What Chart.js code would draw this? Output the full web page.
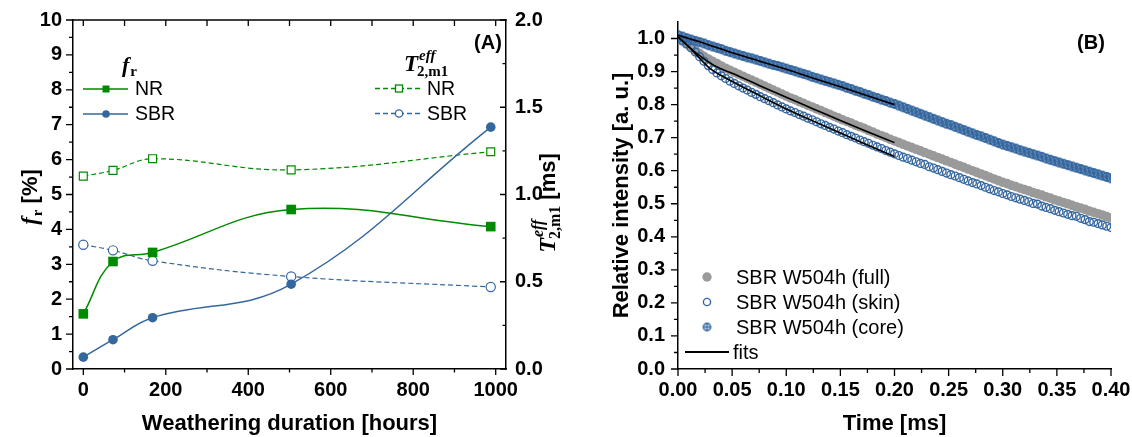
<!DOCTYPE html>
<html><head><meta charset="utf-8">
<script src="https://cdn.jsdelivr.net/npm/chart.js@4.4.1/dist/chart.umd.min.js"></script>
<style>
html,body{margin:0;padding:0;background:#fff;}
#wrap{position:relative;width:1132px;height:437px;overflow:hidden;background:#fff;}
#ca{position:absolute;left:0;top:0;}
#cb{position:absolute;left:560px;top:0;}
</style></head><body>
<div id="wrap"><canvas id="ca" width="600" height="437"></canvas><canvas id="cb" width="572" height="437"></canvas></div>
<script>
// ---------- Panel A data ----------
const hours = [0, 72, 168, 504, 988];
const frNR = [1.58, 3.08, 3.34, 4.57, 4.08];
const frSBR = [0.34, 0.84, 1.47, 2.43, 6.93];
const t2NR = [1.105, 1.138, 1.205, 1.141, 1.245];
const t2SBR = [0.712, 0.68, 0.62, 0.53, 0.47];
const xMajorA = [0, 200, 400, 600, 800, 1000];
const xMinorA = [100, 300, 500, 700, 900];
const yMajorA = [0,1,2,3,4,5,6,7,8,9,10];
const yMinorA = [0.5,1.5,2.5,3.5,4.5,5.5,6.5,7.5,8.5,9.5];
const y2MajorA = [0, 0.5, 1.0, 1.5, 2.0];
const y2MinorA = [0.25, 0.75, 1.25, 1.75];

// ---------- Panel B data ----------
const timeMs = [0,0.004,0.008,0.012,0.016,0.02,0.024,0.028,0.032,0.036,
0.04,0.044,0.048,0.052,0.056,0.06,0.064,0.068,0.072,0.076,
0.08,0.084,0.088,0.092,0.096,0.1,0.104,0.108,0.112,0.116,
0.12,0.124,0.128,0.132,0.136,0.14,0.144,0.148,0.152,0.156,
0.16,0.164,0.168,0.172,0.176,0.18,0.184,0.188,0.192,0.196,
0.2,0.204,0.208,0.212,0.216,0.22,0.224,0.228,0.232,0.236,
0.24,0.244,0.248,0.252,0.256,0.26,0.264,0.268,0.272,0.276,
0.28,0.284,0.288,0.292,0.296,0.3,0.304,0.308,0.312,0.316,
0.32,0.324,0.328,0.332,0.336,0.34,0.344,0.348,0.352,0.356,
0.36,0.364,0.368,0.372,0.376,0.38,0.384,0.388,0.392,0.396,
0.4];
const fullVals = [1.000,0.992,0.983,0.973,0.964,0.955,0.946,0.938,0.931,0.924,
0.917,0.910,0.904,0.898,0.892,0.886,0.880,0.874,0.868,0.862,
0.856,0.850,0.844,0.838,0.832,0.826,0.820,0.815,0.809,0.804,
0.798,0.793,0.787,0.782,0.776,0.771,0.765,0.760,0.754,0.749,
0.744,0.738,0.733,0.728,0.722,0.717,0.711,0.706,0.701,0.695,
0.690,0.685,0.680,0.675,0.670,0.665,0.660,0.655,0.650,0.645,
0.640,0.635,0.630,0.625,0.620,0.615,0.610,0.605,0.600,0.595,
0.590,0.585,0.580,0.575,0.570,0.565,0.561,0.556,0.552,0.547,
0.543,0.539,0.534,0.530,0.526,0.521,0.517,0.512,0.508,0.504,
0.500,0.495,0.491,0.487,0.483,0.478,0.474,0.470,0.466,0.461,
0.457];
const skinVals = [1.000,0.994,0.984,0.972,0.959,0.945,0.931,0.918,0.906,0.896,
0.887,0.879,0.871,0.864,0.857,0.850,0.844,0.837,0.831,0.824,
0.818,0.812,0.806,0.799,0.793,0.787,0.781,0.776,0.770,0.765,
0.759,0.754,0.748,0.742,0.737,0.731,0.726,0.720,0.715,0.709,
0.704,0.699,0.693,0.688,0.683,0.677,0.672,0.667,0.661,0.656,
0.651,0.646,0.641,0.637,0.632,0.627,0.622,0.619,0.612,0.608,
0.603,0.598,0.593,0.588,0.584,0.579,0.574,0.569,0.564,0.560,
0.555,0.550,0.545,0.540,0.536,0.531,0.527,0.522,0.518,0.514,
0.510,0.506,0.501,0.499,0.493,0.489,0.485,0.480,0.476,0.472,
0.468,0.464,0.462,0.456,0.452,0.446,0.444,0.440,0.436,0.432,
0.428];
const coreVals = [1.010,1.006,1.001,0.997,0.993,0.989,0.985,0.980,0.976,0.972,
0.968,0.963,0.959,0.955,0.951,0.947,0.943,0.940,0.936,0.932,
0.928,0.924,0.920,0.917,0.913,0.909,0.905,0.901,0.897,0.893,
0.889,0.884,0.880,0.876,0.872,0.868,0.864,0.860,0.856,0.851,
0.847,0.842,0.838,0.833,0.829,0.824,0.820,0.815,0.811,0.806,
0.802,0.797,0.792,0.787,0.782,0.777,0.772,0.767,0.762,0.757,
0.752,0.747,0.742,0.738,0.733,0.728,0.723,0.718,0.713,0.708,
0.704,0.699,0.694,0.689,0.684,0.679,0.675,0.671,0.667,0.662,
0.658,0.654,0.650,0.646,0.642,0.637,0.633,0.629,0.625,0.621,
0.617,0.613,0.609,0.605,0.601,0.597,0.593,0.589,0.585,0.581,
0.577];
const fitTime = [0, 0.01, 0.02, 0.03, 0.04, 0.05, 0.075, 0.1, 0.125, 0.15, 0.175, 0.2];
const fitCore = [1.010, 1.000, 0.990, 0.979, 0.968, 0.957, 0.932, 0.907, 0.880, 0.854, 0.827, 0.800];
const fitFull = [1.005, 0.975, 0.948, 0.925, 0.908, 0.895, 0.858, 0.822, 0.787, 0.752, 0.718, 0.685];
const fitSkin = [1.005, 0.975, 0.940, 0.908, 0.888, 0.870, 0.828, 0.787, 0.750, 0.714, 0.678, 0.643];
const xMajorB = [0, 0.05, 0.1, 0.15, 0.2, 0.25, 0.3, 0.35, 0.4];
const xMinorB = [0.025, 0.075, 0.125, 0.175, 0.225, 0.275, 0.325, 0.375];
const yMajorB = [0, 0.1, 0.2, 0.3, 0.4, 0.5, 0.6, 0.7, 0.8, 0.9, 1.0];
const yMinorB = [0.05, 0.15, 0.25, 0.35, 0.45, 0.55, 0.65, 0.75, 0.85, 0.95];

// ---------- styles ----------
const GREEN = '#008a00';
const BLUE = '#35679f';
const GRAY = '#9a9a9a';
const SANS = '"Liberation Sans", Arial, sans-serif';
const SERIF = '"Liberation Serif", "Times New Roman", serif';
const tickFont = {family: SANS, size: 20, weight: 'bold'};
const titleFont = {family: SANS, size: 22, weight: 'bold'};

// crossed circle marker
function crossCircle(r, lw) {
  const c = document.createElement('canvas');
  const s = Math.ceil(r * 2 + lw + 2);
  c.width = s; c.height = s;
  const g = c.getContext('2d');
  const m = s / 2;
  g.strokeStyle = BLUE; g.lineWidth = lw;
  g.beginPath(); g.arc(m, m, r, 0, Math.PI * 2); g.stroke();
  g.lineWidth = lw * 0.8;
  g.beginPath(); g.moveTo(m - r, m); g.lineTo(m + r, m); g.moveTo(m, m - r); g.lineTo(m, m + r); g.stroke();
  return c;
}
const coreMarker = crossCircle(4, 1.9);
const coreLegend = crossCircle(3.6, 1.6);

function rich(ctx, x, y, parts) {
  let cx = x;
  parts.forEach(p => {
    ctx.font = p.f;
    ctx.fillText(p.t, cx + (p.dx || 0), y + (p.dy || 0));
    if (!p.noAdv) cx += ctx.measureText(p.t).width + (p.dx || 0);
  });
  return cx - x;
}
function richWidth(ctx, parts) {
  let w = 0;
  parts.forEach(p => { ctx.font = p.f; if (!p.noAdv) w += ctx.measureText(p.t).width + (p.dx || 0); });
  return w;
}
function tickLines(ctx, list) {
  ctx.beginPath();
  list.forEach(l => { ctx.moveTo(l[0], l[1]); ctx.lineTo(l[2], l[3]); });
  ctx.stroke();
}

// ---------- Panel A ----------
const plugA = {
  id: 'decorA',
  afterDraw(chart) {
    const {ctx, chartArea: a, scales: {x, y, y2}} = chart;
    ctx.save();
    ctx.strokeStyle = '#000';
    ctx.lineWidth = 1.5;
    tickLines(ctx, [[a.left - 0.75, a.top, a.right + 0.75, a.top]]);
    ctx.lineWidth = 1.3;
    const L = [];
    xMajorA.forEach(v => { const p = x.getPixelForValue(v); L.push([p, a.bottom, p, a.bottom + 6]); L.push([p, a.top, p, a.top + 6]); });
    xMinorA.forEach(v => { const p = x.getPixelForValue(v); L.push([p, a.bottom, p, a.bottom + 3.5]); L.push([p, a.top, p, a.top + 6]); });
    yMajorA.forEach(v => { const p = y.getPixelForValue(v); L.push([a.left - 7, p, a.left, p]); });
    yMinorA.forEach(v => { const p = y.getPixelForValue(v); L.push([a.left - 4, p, a.left, p]); });
    y2MajorA.forEach(v => { const p = y2.getPixelForValue(v); L.push([a.right - 6, p, a.right, p]); });
    y2MinorA.forEach(v => { const p = y2.getPixelForValue(v); L.push([a.right - 3.5, p, a.right, p]); });
    tickLines(ctx, L);

    // legends
    ctx.fillStyle = '#000';
    ctx.textBaseline = 'alphabetic';
    rich(ctx, 122, 72, [
      {t: 'f', f: 'italic bold 22px ' + SERIF},
      {t: 'r', f: 'bold 15px ' + SERIF, dy: 4, dx: 1}
    ]);
    rich(ctx, 404, 71, [
      {t: 'T', f: 'italic bold 23px ' + SERIF},
      {t: 'eff', f: 'italic bold 15px ' + SERIF, dy: -11, dx: 1, noAdv: true},
      {t: '2,m1', f: 'bold 15px ' + SERIF, dy: 5, dx: -1}
    ]);
    const legFont = '19.5px ' + SANS;
    ctx.textBaseline = 'middle';
    const rowsL = [{y: 89, c: GREEN, m: 'sq'}, {y: 114, c: BLUE, m: 'ci'}];
    rowsL.forEach((r, i) => {
      ctx.strokeStyle = r.c; ctx.lineWidth = 1.6; ctx.setLineDash([]);
      tickLines(ctx, [[83, r.y, 128, r.y]]);
      ctx.fillStyle = r.c;
      if (r.m === 'sq') ctx.fillRect(106 - 3.5, r.y - 3.5, 7, 7);
      else { ctx.beginPath(); ctx.arc(106, r.y, 3.8, 0, Math.PI * 2); ctx.fill(); }
      ctx.fillStyle = '#000'; ctx.font = legFont;
      ctx.fillText(i === 0 ? 'NR' : 'SBR', 135, r.y + 1);
    });
    const rowsR = [{y: 88.5, c: GREEN, m: 'sq'}, {y: 113.5, c: BLUE, m: 'ci'}];
    rowsR.forEach((r, i) => {
      ctx.strokeStyle = r.c; ctx.lineWidth = 1.3; ctx.setLineDash([5, 3]);
      tickLines(ctx, [[375, r.y, 421, r.y]]);
      ctx.setLineDash([]);
      ctx.fillStyle = '#fff';
      if (r.m === 'sq') { ctx.fillRect(399 - 3.5, r.y - 3.5, 7, 7); ctx.strokeRect(399 - 3.5, r.y - 3.5, 7, 7); }
      else { ctx.beginPath(); ctx.arc(399, r.y, 3.7, 0, Math.PI * 2); ctx.fill(); ctx.stroke(); }
      ctx.fillStyle = '#000'; ctx.font = legFont;
      ctx.fillText(i === 0 ? 'NR' : 'SBR', 427, r.y + 1);
    });
    ctx.font = 'bold 20px ' + SANS;
    ctx.textAlign = 'center';
    ctx.fillText('(A)', 488, 43);

    // axis titles (rotated)
    ctx.textAlign = 'left'; ctx.textBaseline = 'alphabetic';
    const leftParts = [
      {t: 'f', f: 'italic bold 23px ' + SERIF},
      {t: 'r', f: 'bold 15px ' + SERIF, dy: 5, dx: 1},
      {t: ' [%]', f: 'bold 22px ' + SANS}
    ];
    ctx.save();
    ctx.translate(37, 197); ctx.rotate(-Math.PI / 2);
    rich(ctx, -richWidth(ctx, leftParts) / 2, 0, leftParts);
    ctx.restore();
    const rightParts = [
      {t: 'T', f: 'italic bold 24px ' + SERIF},
      {t: 'eff', f: 'italic bold 16px ' + SERIF, dy: -12, dx: 1, noAdv: true},
      {t: '2,m1', f: 'bold 16px ' + SERIF, dy: 5, dx: -1},
      {t: ' [ms]', f: 'bold 22px ' + SANS}
    ];
    ctx.save();
    ctx.translate(555, 203); ctx.rotate(-Math.PI / 2);
    rich(ctx, -richWidth(ctx, rightParts) / 2, 0, rightParts);
    ctx.restore();
    ctx.restore();
  }
};

const pts = (xs, ys) => xs.map((v, i) => ({x: v, y: ys[i]}));
const noGrid = {display: false, drawTicks: false};

new Chart(document.getElementById('ca'), {
  type: 'line',
  data: {
    datasets: [
      {label: 'NR f', data: pts(hours, frNR), yAxisID: 'y', borderColor: GREEN, backgroundColor: GREEN,
       borderWidth: 1.5, pointStyle: 'rect', pointRadius: 6.8, pointBackgroundColor: GREEN, pointBorderWidth: 0, tension: 0.4, fill: false},
      {label: 'SBR f', data: pts(hours, frSBR), yAxisID: 'y', borderColor: BLUE, backgroundColor: BLUE,
       borderWidth: 1.5, pointStyle: 'circle', pointRadius: 4.8, pointBackgroundColor: BLUE, pointBorderWidth: 0, tension: 0.4, fill: false},
      {label: 'NR T2', data: pts(hours, t2NR), yAxisID: 'y2', borderColor: GREEN, backgroundColor: '#fff',
       borderWidth: 1.2, borderDash: [5, 3], pointStyle: 'rect', pointRadius: 5.6, pointBackgroundColor: '#fff', pointBorderColor: GREEN, pointBorderWidth: 1.2, tension: 0.4, fill: false},
      {label: 'SBR T2', data: pts(hours, t2SBR), yAxisID: 'y2', borderColor: BLUE, backgroundColor: '#fff',
       borderWidth: 1.2, borderDash: [5, 3], pointStyle: 'circle', pointRadius: 4.6, pointBackgroundColor: '#fff', pointBorderColor: BLUE, pointBorderWidth: 1.2, tension: 0.4, fill: false}
    ]
  },
  options: {
    responsive: false, animation: false, devicePixelRatio: 1,
    layout: {padding: {top: 20, left: 0, right: 40, bottom: 0}},
    plugins: {legend: {display: false}, tooltip: {enabled: false}},
    scales: {
      x: {type: 'linear', position: 'bottom', min: -25, max: 1025,
          grid: noGrid, border: {display: true, color: '#000', width: 1.5},
          afterBuildTicks: s => { s.ticks = xMajorA.map(v => ({value: v})); },
          afterFit: s => { s.height = 68; s.paddingLeft = 0; s.paddingRight = 0; },
          ticks: {font: tickFont, color: '#000', padding: 9, maxRotation: 0, autoSkip: false, callback: v => String(v)},
          title: {display: true, text: 'Weathering duration [hours]', font: titleFont, color: '#000', padding: {top: 0, bottom: 0}}},
      y: {type: 'linear', position: 'left', min: 0, max: 10,
          grid: noGrid, border: {display: true, color: '#000', width: 1.5},
          afterBuildTicks: s => { s.ticks = yMajorA.map(v => ({value: v})); },
          afterFit: s => { s.width = 73; s.paddingTop = 0; s.paddingBottom = 0; },
          ticks: {font: tickFont, color: '#000', padding: 11, callback: v => String(v)}},
      y2: {type: 'linear', position: 'right', min: 0, max: 2,
          grid: noGrid, border: {display: true, color: '#000', width: 1.5},
          afterBuildTicks: s => { s.ticks = y2MajorA.map(v => ({value: v})); },
          afterFit: s => { s.width = 54; s.paddingTop = 0; s.paddingBottom = 0; },
          ticks: {font: tickFont, color: '#000', padding: 9, callback: v => Number(v).toFixed(1)}}
    }
  },
  plugins: [plugA]
});

// ---------- Panel B ----------
const plugB = {
  id: 'decorB',
  afterDraw(chart) {
    const {ctx, chartArea: a, scales: {x, y}} = chart;
    ctx.save();
    ctx.strokeStyle = '#000'; ctx.lineWidth = 1.3;
    const L = [];
    xMajorB.forEach(v => { const p = x.getPixelForValue(v); L.push([p, a.bottom, p, a.bottom + 7]); });
    xMinorB.forEach(v => { const p = x.getPixelForValue(v); L.push([p, a.bottom, p, a.bottom + 4]); });
    yMajorB.forEach(v => { const p = y.getPixelForValue(v); L.push([a.left - 7, p, a.left, p]); });
    yMinorB.forEach(v => { const p = y.getPixelForValue(v); L.push([a.left - 4, p, a.left, p]); });
    tickLines(ctx, L);

    // legend
    const legFont = '20px ' + SANS;
    ctx.textBaseline = 'middle'; ctx.textAlign = 'left';
    const mx = 147, tx = 176;
    const labels = ['SBR W504h (full)', 'SBR W504h (skin)', 'SBR W504h (core)', 'fits'];
    const ys = [277, 302, 327, 352];
    ctx.fillStyle = GRAY;
    ctx.beginPath(); ctx.arc(mx, ys[0], 4.7, 0, Math.PI * 2); ctx.fill();
    ctx.strokeStyle = BLUE; ctx.lineWidth = 1.4;
    ctx.beginPath(); ctx.arc(mx, ys[1], 3.6, 0, Math.PI * 2); ctx.stroke();
    ctx.drawImage(coreLegend, mx - coreLegend.width / 2, ys[2] - coreLegend.height / 2);
    ctx.strokeStyle = '#000'; ctx.lineWidth = 2;
    tickLines(ctx, [[125, ys[3], 169, ys[3]]]);
    ctx.fillStyle = '#000'; ctx.font = legFont;
    labels.forEach((t, i) => ctx.fillText(t, i === 3 ? 173 : tx, ys[i] + 1));
    ctx.font = 'bold 20px ' + SANS; ctx.textAlign = 'center';
    ctx.fillText('(B)', 531, 43);
    ctx.restore();
  }
};

new Chart(document.getElementById('cb'), {
  type: 'line',
  data: {
    datasets: [
      {label: 'fit core', data: pts(fitTime, fitCore), borderColor: '#000', borderWidth: 1.6, pointRadius: 0, cubicInterpolationMode: 'monotone', order: 0, fill: false},
      {label: 'fit full', data: pts(fitTime, fitFull), borderColor: '#000', borderWidth: 1.6, pointRadius: 0, cubicInterpolationMode: 'monotone', order: 0, fill: false},
      {label: 'fit skin', data: pts(fitTime, fitSkin), borderColor: '#000', borderWidth: 1.6, pointRadius: 0, cubicInterpolationMode: 'monotone', order: 0, fill: false},
      {label: 'SBR W504h (core)', data: pts(timeMs, coreVals), showLine: false, pointStyle: coreMarker, pointRadius: 4, order: 2},
      {label: 'SBR W504h (skin)', data: pts(timeMs, skinVals), showLine: false, pointStyle: 'circle', pointRadius: 3.9,
       pointBackgroundColor: 'rgba(255,255,255,0)', pointBorderColor: BLUE, pointBorderWidth: 1.4, order: 2},
      {label: 'SBR W504h (full)', data: pts(timeMs, fullVals), showLine: false, pointStyle: 'circle', pointRadius: 4.8,
       pointBackgroundColor: GRAY, pointBorderColor: GRAY, pointBorderWidth: 0, order: 3}
    ]
  },
  options: {
    responsive: false, animation: false, devicePixelRatio: 1,
    layout: {padding: {top: 22, left: 0, right: 21, bottom: 0}},
    plugins: {legend: {display: false}, tooltip: {enabled: false}},
    scales: {
      x: {type: 'linear', position: 'bottom', min: 0, max: 0.4,
          grid: noGrid, border: {display: true, color: '#000', width: 1.5},
          afterBuildTicks: s => { s.ticks = xMajorB.map(v => ({value: v})); },
          afterFit: s => { s.height = 68; s.paddingLeft = 0; s.paddingRight = 0; },
          ticks: {font: tickFont, color: '#000', padding: 9, maxRotation: 0, autoSkip: false, callback: v => Number(v).toFixed(2)},
          title: {display: true, text: 'Time [ms]', font: titleFont, color: '#000', padding: {top: 0, bottom: 0}}},
      y: {type: 'linear', position: 'left', min: 0, max: 1.05,
          grid: noGrid, border: {display: true, color: '#000', width: 1.5},
          afterBuildTicks: s => { s.ticks = yMajorB.map(v => ({value: v})); },
          afterFit: s => { s.width = 118; s.paddingTop = 0; s.paddingBottom = 0; },
          ticks: {font: tickFont, color: '#000', padding: 13, callback: v => Number(v).toFixed(1)},
          title: {display: true, text: 'Relative intensity [a. u.]', font: titleFont, color: '#000', padding: {top: 49, bottom: 0}}}
    }
  },
  plugins: [plugB]
});
</script>
</body></html>
